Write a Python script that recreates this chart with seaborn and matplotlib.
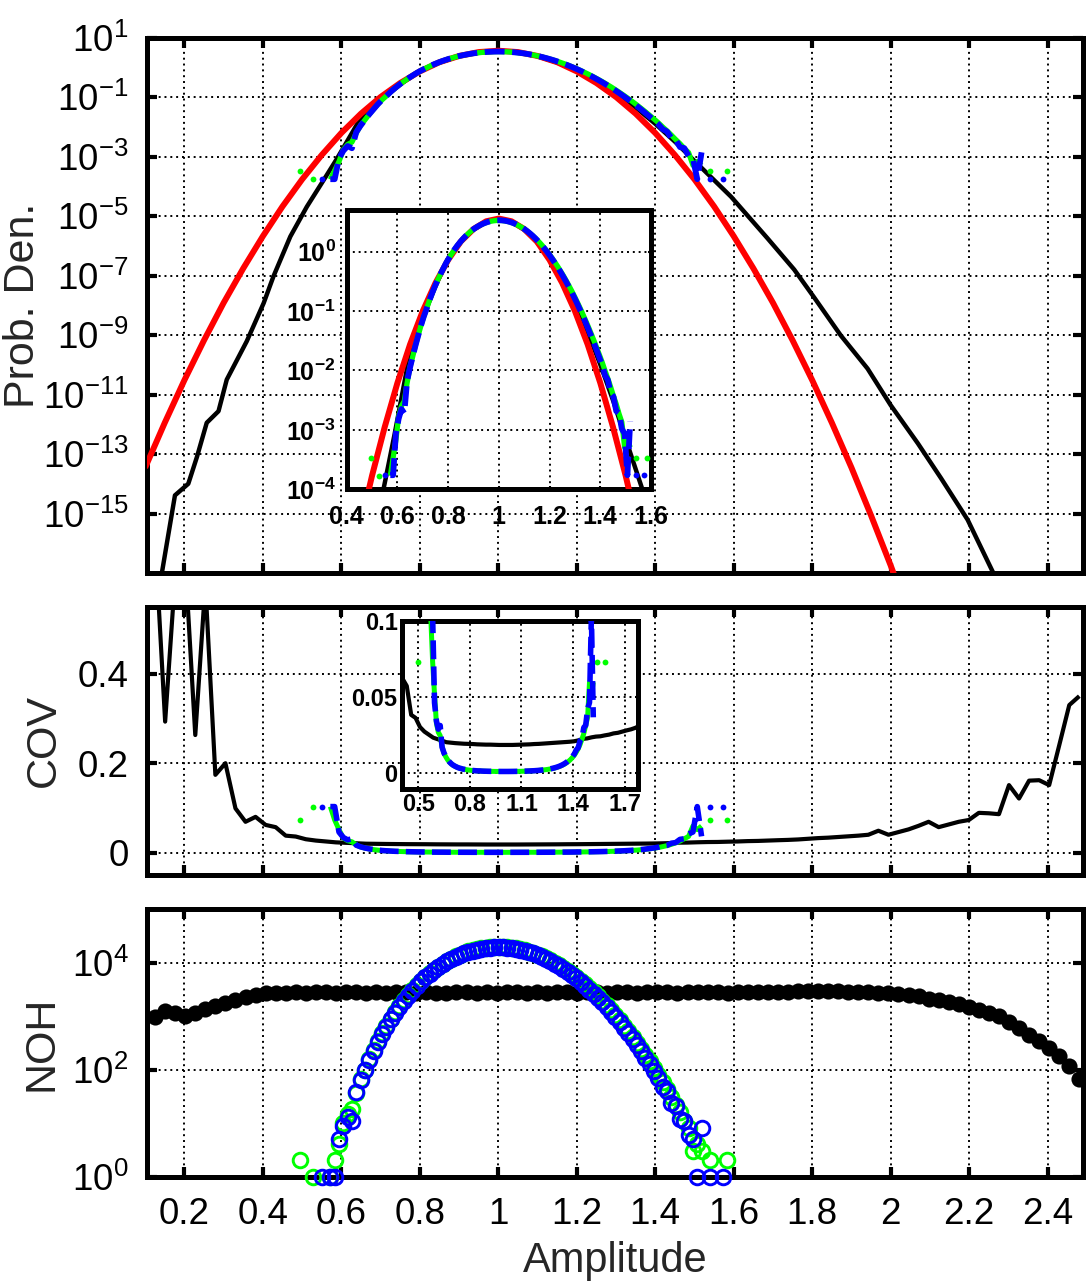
import numpy as np
import matplotlib
matplotlib.use("Agg")
import matplotlib.pyplot as plt
from matplotlib.ticker import NullLocator
import seaborn as sns

nan = float("nan")

# ---------------------------------------------------------------- data
# Gaussian fit (red): amplitude and log10 of the fitted density
fit_amp = [0.10, 0.15, 0.20, 0.25, 0.30, 0.35, 0.40, 0.45, 0.50, 0.55,
           0.60, 0.65, 0.70, 0.75, 0.80, 0.85, 0.90, 0.95, 1.00, 1.05,
           1.10, 1.15, 1.20, 1.25, 1.30, 1.35, 1.40, 1.45, 1.50, 1.55,
           1.60, 1.65, 1.70, 1.75, 1.80, 1.85, 1.90, 1.95, 2.00, 2.05]
fit_log10_pdf = [-13.46, -11.95, -10.52, -9.18, -7.92, -6.76, -5.68, -4.68, -3.77, -2.95,
                 -2.21, -1.56, -1.00, -0.53, -0.14, 0.17, 0.38, 0.51, 0.556, 0.51,
                 0.38, 0.17, -0.14, -0.53, -1.00, -1.56, -2.21, -2.95, -3.77, -4.68,
                 -5.68, -6.76, -7.92, -9.18, -10.52, -11.95, -13.46, -15.07, -16.75, -18.53]

# weighted estimator (black): density curve
weighted_amp = [0.130, 0.142, 0.176, 0.210, 0.232, 0.257, 0.287, 0.308, 0.359, 0.402,
                0.427, 0.470, 0.512, 0.555, 0.589, 0.640, 0.700, 0.750, 0.800, 0.850,
                0.900, 0.950, 1.000, 1.050, 1.100, 1.150, 1.200, 1.250, 1.300, 1.350,
                1.400, 1.450, 1.500, 1.593, 1.686, 1.754, 1.805, 1.873, 1.941, 2.000,
                2.069, 2.128, 2.196, 2.260, 2.290]
weighted_log10_pdf = [-17.8, -17.05, -14.39, -14.0, -13.1, -11.95, -11.56, -10.5, -9.21, -7.93,
                      -7.03, -5.69, -4.69, -3.79, -3.07, -1.92, -1.12, -0.58, -0.12, 0.16,
                      0.37, 0.50, 0.55, 0.50, 0.37, 0.16, -0.11, -0.44, -0.86, -1.35,
                      -1.90, -2.50, -3.15, -4.35, -5.75, -6.80, -7.74, -9.02, -10.13, -11.36,
                      -12.64, -13.81, -15.21, -16.96, -17.7]

# weighted estimator (black): coarse bins, hits per bin and COV per bin
coarse_start, coarse_width = 0.1254, 0.0256
weighted_hits = [977, 1259, 1148, 1000, 1148, 1349, 1549, 1778, 2042, 2239,
                 2512, 2692, 2754, 2750, 2818, 2760, 2815, 2820, 2752, 2818,
                 2814, 2751, 2818, 2755, 2816, 2820, 2753, 2817, 2756, 2750,
                 2818, 2815, 2754, 2817, 2752, 2818, 2819, 2751, 2818, 2755,
                 2817, 2814, 2752, 2818, 2816, 2754, 2819, 2818, 2753, 2817,
                 2815, 2819, 2752, 2818, 2816, 2820, 2817, 2754, 2818, 2821,
                 2816, 2884, 2880, 2886, 2951, 2948, 2955, 2950, 2952, 2884,
                 2880, 2818, 2754, 2692, 2630, 2512, 2344, 2138, 1995, 1862,
                 1698, 1514, 1318, 1148, 1000, 794, 603, 447, 339, 257,
                 178, 115, 66]
weighted_cov = [0.70, 0.293, 0.62, 0.65, 0.263, 0.60, 0.174, 0.200, 0.099, 0.069,
                0.080, 0.062, 0.057, 0.038, 0.036, 0.030, 0.027, 0.025, 0.023, 0.022,
                0.021, 0.020, 0.0197, 0.0194, 0.0192, 0.0190, 0.0189, 0.0188, 0.0186, 0.0185,
                0.0184, 0.0184, 0.0183, 0.0182, 0.0182, 0.0182, 0.0182, 0.0183, 0.0184, 0.0185,
                0.0186, 0.0188, 0.0189, 0.0191, 0.0193, 0.0195, 0.0197, 0.0199, 0.0201, 0.0203,
                0.0206, 0.0212, 0.0222, 0.0225, 0.0232, 0.0237, 0.0239, 0.0245, 0.0250, 0.0258,
                0.0262, 0.0270, 0.0278, 0.0285, 0.0295, 0.0310, 0.0325, 0.0335, 0.0350, 0.0365,
                0.0380, 0.040, 0.049, 0.040, 0.046, 0.052, 0.060, 0.069, 0.057, 0.063,
                0.069, 0.073, 0.089, 0.088, 0.086, 0.151, 0.121, 0.161, 0.162, 0.151,
                0.240, 0.330, 0.350]

# direct estimators (green / blue): fine bins, hits per bin and COV per bin
fine_start, fine_width = 0.495, 0.011
green_hits = [2, 0, 0, 1, 0, 0, 0, 1, 2, 4,
              10, 15, 18, 36, 66, 100, 155, 230, 338, 478,
              645, 890, 1185, 1540, 1970, 2480, 3070, 3790, 4570, 5420,
              6390, 7420, 8480, 9620, 10770, 11970, 13140, 14260, 15280, 16250,
              17170, 17930, 18610, 19150, 19500, 19740, 19810, 19720, 19470, 19070,
              18520, 17860, 17070, 16190, 15240, 14220, 13170, 12100, 11030, 9970,
              8940, 7950, 7010, 6140, 5330, 4590, 3920, 3330, 2800, 2340,
              1940, 1590, 1300, 1050, 840, 668, 527, 412, 320, 246,
              188, 142, 107, 80, 58, 43, 31, 22, 16, 11,
              8, 3, 4, 3, 0, 2, 0, 0, 0, 2,
              0]
blue_hits = [0, 0, 0, 0, 0, 1, 0, 1, 1, 5,
             9, 13, 11, 38, 63, 98, 151, 224, 331, 468,
             630, 871, 1160, 1510, 1930, 2430, 3010, 3720, 4480, 5320,
             6270, 7280, 8320, 9440, 10570, 11750, 12900, 14000, 15000, 15960,
             16870, 17620, 18300, 18840, 19190, 19430, 19500, 19410, 19150, 18750,
             18200, 17540, 16750, 15870, 14920, 13900, 12850, 11780, 10720, 9670,
             8650, 7670, 6750, 5895, 5105, 4380, 3730, 3155, 2640, 2195,
             1810, 1480, 1200, 965, 770, 609, 478, 372, 287, 220,
             167, 126, 94, 70, 48, 40, 24, 21, 12, 11,
             6, 5, 1, 8, 0, 1, 0, 0, 1, 0,
             0]
green_cov = [0.073, nan, nan, 0.103, nan, nan, nan, 0.103, 0.073, 0.0515,
             0.0326, 0.0266, 0.0243, 0.0172, 0.0127, 0.0103, 0.0083, 0.0068, 0.0056, 0.0047,
             0.0041, 0.0035, 0.0030, 0.0026, 0.0023, 0.0021, 0.0019, 0.0017, 0.0015, 0.0014,
             0.0013, 0.0012, 0.0011, 0.00105, 0.00099, 0.00094, 0.00090, 0.00086, 0.00083, 0.00081,
             0.00079, 0.00077, 0.00076, 0.00074, 0.00074, 0.00073, 0.00073, 0.00073, 0.00074, 0.00075,
             0.00076, 0.00077, 0.00079, 0.00081, 0.00083, 0.00086, 0.00090, 0.00094, 0.00098, 0.00103,
             0.00109, 0.00116, 0.00123, 0.00131, 0.00141, 0.00152, 0.00165, 0.00178, 0.00195, 0.00213,
             0.00234, 0.00258, 0.00286, 0.00318, 0.00355, 0.00399, 0.00449, 0.00507, 0.00576, 0.00657,
             0.00751, 0.00864, 0.00996, 0.0115, 0.0135, 0.0157, 0.0185, 0.0220, 0.0258, 0.0311,
             0.0364, 0.0595, 0.0515, 0.0595, nan, 0.073, nan, nan, nan, 0.073,
             nan]
blue_cov = [nan, nan, nan, nan, nan, 0.103, nan, 0.103, 0.103, 0.046,
            0.034, 0.0286, 0.031, 0.0167, 0.0130, 0.0104, 0.0084, 0.0069, 0.0057, 0.0048,
            0.0041, 0.0035, 0.0030, 0.0027, 0.0023, 0.0021, 0.0019, 0.0017, 0.0015, 0.0014,
            0.0013, 0.0012, 0.0011, 0.0011, 0.0010, 0.00095, 0.00091, 0.00087, 0.00084, 0.00082,
            0.00079, 0.00078, 0.00076, 0.00075, 0.00074, 0.00074, 0.00074, 0.00074, 0.00074, 0.00075,
            0.00076, 0.00078, 0.00080, 0.00082, 0.00084, 0.00087, 0.00091, 0.00095, 0.00100, 0.00105,
            0.00111, 0.00118, 0.00125, 0.00134, 0.00144, 0.00156, 0.00169, 0.00183, 0.00200, 0.00220,
            0.00242, 0.00268, 0.00297, 0.00332, 0.00371, 0.00417, 0.00471, 0.00534, 0.00608, 0.00694,
            0.00797, 0.00918, 0.0106, 0.0123, 0.0149, 0.0163, 0.0210, 0.0225, 0.0297, 0.0311,
            0.0420, 0.0461, 0.103, 0.0364, nan, 0.103, nan, nan, 0.103, nan,
            nan]

amp_ticks = [0.2, 0.4, 0.6, 0.8, 1.0, 1.2, 1.4, 1.6, 1.8, 2.0, 2.2, 2.4]
amp_tick_labels = ["0.2", "0.4", "0.6", "0.8", "1", "1.2", "1.4", "1.6", "1.8", "2", "2.2", "2.4"]
pdf_exponents = [1, -1, -3, -5, -7, -9, -11, -13, -15]
noh_exponents = [0, 2, 4]
cov_ticks = [0, 0.2, 0.4]
cov_tick_labels = ["0", "0.2", "0.4"]
pdf_inset_xticks = [0.4, 0.6, 0.8, 1.0, 1.2, 1.4, 1.6]
pdf_inset_xlabels = ["0.4", "0.6", "0.8", "1", "1.2", "1.4", "1.6"]
pdf_inset_exponents = [0, -1, -2, -3, -4]
cov_inset_xticks = [0.5, 0.8, 1.1, 1.4, 1.7]
cov_inset_xlabels = ["0.5", "0.8", "1.1", "1.4", "1.7"]
cov_inset_yticks = [0, 0.05, 0.1]
cov_inset_ylabels = ["0", "0.05", "0.1"]

# ---------------------------------------------------------------- derived arrays
coarse_amp = coarse_start + coarse_width * np.arange(len(weighted_hits))
fine_amp = fine_start + fine_width * np.arange(len(blue_hits))


def density(hits):
    h = np.asarray(hits, float)
    pdf = h / (h.sum() * fine_width)
    return np.where(h > 0, pdf, np.nan)


def lone_points(v):
    f = np.isfinite(v)
    left = np.r_[False, f[:-1]]
    right = np.r_[f[1:], False]
    return f & ~left & ~right


green_pdf = density(green_hits)
blue_pdf = density(blue_hits)
green_cov_a = np.asarray(green_cov, float)
blue_cov_a = np.asarray(blue_cov, float)

# ---------------------------------------------------------------- style
sns.set_theme(style="white")
FONT = ["Liberation Sans", "DejaVu Sans"]
plt.rcParams.update({
    "font.family": FONT,
    "axes.unicode_minus": True,
    "lines.solid_capstyle": "butt",
})

W, H = 1086, 1281
fig = plt.figure(figsize=(W / 100, H / 100), dpi=100)
fig.patch.set_facecolor("white")


def px_axes(left, top, right, bottom):
    return fig.add_axes([left / W, 1 - bottom / H, (right - left) / W, (bottom - top) / H])


ax_pdf = px_axes(146.7, 37.5, 1083, 573)
ax_cov = px_axes(146.7, 606.7, 1083, 875)
ax_noh = px_axes(146.7, 909.3, 1083, 1176.5)
ax_pdf_in = px_axes(346.7, 210, 651, 489.3)
ax_cov_in = px_axes(401.7, 620.7, 638.3, 789.3)

GRID = dict(color="black", linestyle=(0, (1, 2)), linewidth=1.4)


def style_axes(ax, spine_lw, tick_len, tick_w, pad):
    ax.set_facecolor("white")
    for sp in ax.spines.values():
        sp.set_visible(True)
        sp.set_linewidth(spine_lw)
        sp.set_color("black")
    ax.tick_params(axis="both", which="major", direction="in", top=True, right=True,
                   bottom=True, left=True, length=tick_len, width=tick_w,
                   color="black", labelcolor="black", pad=pad)
    ax.grid(True, which="major", **GRID)
    ax.set_axisbelow(True)


def pow10(e):
    return r"$\mathregular{10^{%d}}$" % e


MAIN_FS = 26.5
INSET_FS = 18
LABEL_FS = 31

RED = "#ff0000"
GREEN = "#00ff00"
BLUE = "#0000ff"
BLUE_DASH = (0, (3.4, 1.3))


def draw_direct(ax, amp, green_vals, blue_vals, lw=4.2):
    ax.plot(amp, green_vals, color=GREEN, lw=lw * 0.9, zorder=4)
    ax.plot(amp, blue_vals, color=BLUE, lw=lw, linestyle=BLUE_DASH, zorder=5)
    g = lone_points(green_vals)
    b = lone_points(blue_vals)
    ax.plot(amp[g], green_vals[g], "o", color=GREEN, ms=4.2, mew=0, zorder=4)
    ax.plot(amp[b], blue_vals[b], "o", color=BLUE, ms=4.2, mew=0, zorder=5)


def draw_pdf(ax):
    sns.lineplot(x=weighted_amp, y=10.0 ** np.asarray(weighted_log10_pdf), ax=ax,
                 color="black", lw=3.2, estimator=None, sort=False, zorder=2)
    sns.lineplot(x=fit_amp, y=10.0 ** np.asarray(fit_log10_pdf), ax=ax,
                 color=RED, lw=4.3, estimator=None, sort=False, zorder=3)
    draw_direct(ax, fine_amp, green_pdf, blue_pdf)


def draw_cov(ax):
    sns.lineplot(x=coarse_amp, y=weighted_cov, ax=ax, color="black", lw=3.0,
                 estimator=None, sort=False, zorder=2)
    draw_direct(ax, fine_amp, green_cov_a, blue_cov_a, lw=4.0)


# ---------------------------------------------------------------- top: density
ax = ax_pdf
ax.set_yscale("log")
draw_pdf(ax)
ax.set_xlim(0.104, 2.49)
ax.set_ylim(1e-17, 1e1)
ax.set_xticks(amp_ticks, [])
ax.set_yticks([10.0 ** e for e in pdf_exponents], [pow10(e) for e in pdf_exponents],
              fontsize=MAIN_FS)
ax.yaxis.set_minor_locator(NullLocator())
style_axes(ax, 3.6, 7, 3.0, 13)
ax.set_ylabel("Prob. Den.", fontsize=LABEL_FS)
ax.yaxis.set_label_coords(-0.132, 0.5)
ax.yaxis.label.set_va("center")

ax = ax_pdf_in
ax.set_zorder(6)
ax.set_yscale("log")
draw_pdf(ax)
ax.set_xlim(0.4, 1.6)
ax.set_ylim(1e-4, 10 ** 0.7)
ax.set_xticks(pdf_inset_xticks, pdf_inset_xlabels, fontsize=INSET_FS, fontweight="bold")
ax.set_yticks([10.0 ** e for e in pdf_inset_exponents],
              [pow10(e) for e in pdf_inset_exponents], fontsize=INSET_FS, fontweight="bold")
ax.yaxis.set_minor_locator(NullLocator())
style_axes(ax, 3.6, 2, 1.5, 8)
ax.tick_params(axis="x", pad=11)

# ---------------------------------------------------------------- middle: COV
ax = ax_cov
draw_cov(ax)
ax.set_xlim(0.104, 2.49)
ax.set_ylim(-0.05, 0.55)
ax.set_xticks(amp_ticks, [])
ax.set_yticks(cov_ticks, cov_tick_labels, fontsize=MAIN_FS)
style_axes(ax, 3.6, 7, 3.0, 13)
ax.set_ylabel("COV", fontsize=LABEL_FS)
ax.yaxis.set_label_coords(-0.11, 0.5)
ax.yaxis.label.set_va("center")

ax = ax_cov_in
ax.set_zorder(6)
draw_cov(ax)
ax.set_xlim(0.403, 1.78)
ax.set_ylim(-0.011, 0.1)
ax.set_xticks(cov_inset_xticks, cov_inset_xlabels, fontsize=INSET_FS - 1, fontweight="bold")
ax.set_yticks(cov_inset_yticks, cov_inset_ylabels, fontsize=INSET_FS - 1, fontweight="bold")
style_axes(ax, 3.6, 2, 1.5, 3)

# ---------------------------------------------------------------- bottom: hits
ax = ax_noh
ax.set_yscale("log")
sns.scatterplot(x=coarse_amp, y=weighted_hits, ax=ax, color="black", s=135,
                linewidth=0, zorder=3)
gmask = np.asarray(green_hits) > 0
bmask = np.asarray(blue_hits) > 0
ax.plot(fine_amp[gmask], np.asarray(green_hits)[gmask], "o", mfc="none", mec=GREEN,
        ms=10.5, mew=2.1, clip_on=False, zorder=4)
ax.plot(fine_amp[bmask], np.asarray(blue_hits)[bmask], "o", mfc="none", mec=BLUE,
        ms=10.5, mew=2.1, clip_on=False, zorder=5)
ax.set_xlim(0.104, 2.49)
ax.set_ylim(1, 1e5)
ax.set_xticks(amp_ticks, amp_tick_labels, fontsize=MAIN_FS)
ax.set_yticks([10.0 ** e for e in noh_exponents], [pow10(e) for e in noh_exponents],
              fontsize=MAIN_FS)
ax.yaxis.set_minor_locator(NullLocator())
style_axes(ax, 3.6, 7, 3.0, 13)
ax.tick_params(axis="x", pad=15)
ax.set_ylabel("NOH", fontsize=LABEL_FS)
ax.yaxis.set_label_coords(-0.112, 0.5)
ax.yaxis.label.set_va("center")
ax.set_xlabel("Amplitude", fontsize=30, labelpad=6)

fig.savefig("out.png", dpi=100, facecolor="white")
